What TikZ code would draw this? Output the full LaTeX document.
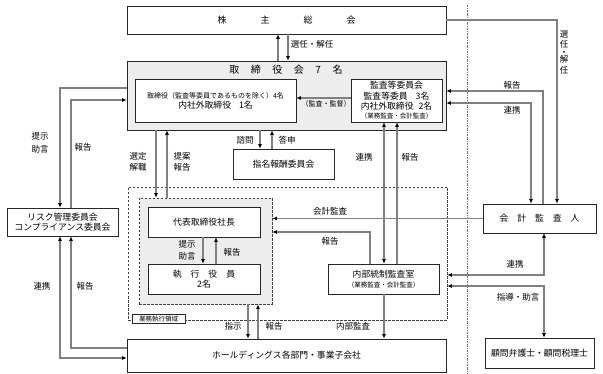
\documentclass[tikz,border=0pt]{standalone}
\usepackage{fontspec}
\setmainfont{Noto Sans CJK JP}
\usetikzlibrary{arrows.meta,calc}
\begin{document}
\begin{tikzpicture}[x=1pt,y=-1pt,
  box/.style={draw=black!85, line width=0.7pt, fill=white, inner sep=0pt, align=center, font=\fontsize{8.8}{10.5}\selectfont},
  conn/.style={draw=black!50, line width=1.1pt},
  arr/.style={conn, -{Latex[length=4.5pt,width=4pt,color=black]}},
  barr/.style={conn, {Latex[length=4.5pt,width=4pt,color=black]}-{Latex[length=4.5pt,width=4pt,color=black]}},
  lbl/.style={font=\fontsize{8.5}{10.5}\selectfont, inner sep=0pt, align=center},
  dashbox/.style={draw=black!75, line width=0.6pt, dash pattern=on 2.5pt off 1.5pt, inner sep=0pt},
]
\useasboundingbox (0,0) rectangle (603,374);

% coordinates for x and y positions
\foreach \v in {60,71,156,167,203,216,248,258,260,272,278,288,370,384,397,531,543,544,557}{\coordinate (c\v) at (\v,0);}
\foreach \v in {88,91,98,100,103,232,275,286,348,358}{\coordinate (r\v) at (0,\v);}

% dotted separator
\coordinate (sepTop) at (467,5);
\coordinate (sepBot) at (467,374);
\draw[black!55, line width=0.8pt, dash pattern=on 2pt off 1pt on 0.6pt off 1pt] (sepTop) -- (sepBot);

% boxes
\node[box, minimum width=319pt, minimum height=28pt] (kab) at (286.5,20) {};
\node[font=\fontsize{9}{10}\selectfont, inner sep=0pt] (kabt) at (286.5,20) {株\hspace{34pt}主\hspace{34pt}総\hspace{34pt}会};

\node[box, fill=black!7, minimum width=319pt, minimum height=69pt] (tb) at (286.5,95.5) {};
\node[font=\fontsize{10}{12}\selectfont, inner sep=0pt] (tbt) at (286,70) {取\hspace{11.5pt}締\hspace{11.5pt}役\hspace{11.5pt}会\hspace{11.5pt}7\hspace{11.5pt}名};
\node[box, minimum width=161pt, minimum height=43pt] (dir) at (215.5,100.5)
  {{\fontsize{7}{9}\selectfont 取締役（監査等委員であるものを除く）4名}\\[-0.5pt]内社外取締役\hspace{8pt}1名};
\node[box, minimum width=91pt, minimum height=43pt] (kansa) at (396.5,100.5)
  {監査等委員会\\監査等委員\hspace{8pt}3名\\内社外取締役\hspace{5pt}2名\\[-1.5pt]{\fontsize{6.5}{8}\selectfont （業務監査・会計監査）}};

\node[box, minimum width=111pt, minimum height=28pt] (risk) at (62.5,222)
  {リスク管理委員会\\コンプライアンス委員会};
\node[box, minimum width=101pt, minimum height=30pt] (nom) at (283.5,164) {指名報酬委員会};

\node[dashbox, minimum width=319pt, minimum height=133pt] (region) at (287.5,253.5) {};
\node[dashbox, fill=black!7, minimum width=133pt, minimum height=106pt] (gray) at (205.5,251) {};
\node[draw=black!85, line width=0.6pt, fill=white, inner sep=0pt, minimum width=53pt, minimum height=9pt, font=\fontsize{6.5}{7}\selectfont] (rlab) at (158.5,319) {業務執行領域};

\node[box, minimum width=112pt, minimum height=30pt] (ceo) at (204,222) {代表取締役社長};
\node[box, minimum width=112pt, minimum height=30pt] (exec) at (204,279) {執\hspace{9pt}行\hspace{9pt}役\hspace{9pt}員\\2名};
\node[box, minimum width=111pt, minimum height=30pt] (audit) at (383.5,279)
  {内部統制監査室\\[-1pt]{\fontsize{6.5}{8}\selectfont （業務監査・会計監査）}};

\node[box, minimum width=319pt, minimum height=33pt] (hd) at (286.5,355.5) {ホールディングス各部門・事業子会社};
\node[box, minimum width=113pt, minimum height=29pt] (acct) at (539.5,218.5) {会\hspace{9pt}計\hspace{9pt}監\hspace{9pt}査\hspace{9pt}人};
\node[box, minimum width=109pt, minimum height=30pt] (adv) at (539.5,353) {顧問弁護士・顧問税理士};

% connectors
\draw[arr] (tb.north -| c278) -- (kab.south -| c278);
\draw[arr] (kab.south -| c288) -- (tb.north -| c288);
\draw[arr] (kab.east) -| (acct.north -| c557);
\draw[arr] (acct.north -| c543) |- (tb.east |- r91);
\draw[barr] (tb.east |- r103) -| (acct.north -| c531);
\draw[arr] (kansa.west |- r98) -- (dir.east |- r98);
\draw[arr] (tb.west |- r88) -| (risk.north -| c60);
\draw[arr] (risk.north -| c71) |- (tb.west |- r100);
\draw[barr] (risk.south -| c60) |- (hd.west |- r358);
\draw[arr] (hd.west |- r348) -| (risk.south -| c71);
\draw[arr] (tb.south -| c156) -- (gray.north -| c156);
\draw[arr] (gray.north -| c167) -- (tb.south -| c167);
\draw[arr] (tb.south -| c260) -- (nom.north -| c260);
\draw[arr] (nom.north -| c272) -- (tb.south -| c272);
\draw[barr] (kansa.south -| c384) -- (audit.north -| c384);
\draw[arr] (audit.north -| c397) -- (kansa.south -| c397);
\draw[arr] (acct.west) -- (gray.east |- acct.west);
\draw[arr] (audit.north -| c370) |- (gray.east |- r232);
\draw[barr] (acct.south -| c544) |- (region.east |- r275);
\draw[barr] (region.east |- r286) -| (adv.north -| c544);
\draw[arr] (ceo.south -| c203) -- (exec.north -| c203);
\draw[arr] (exec.north -| c216) -- (ceo.south -| c216);
\draw[arr] (gray.south -| c248) -- (hd.north -| c248);
\draw[arr] (hd.north -| c258) -- (gray.south -| c258);
\draw[arr] (audit.south -| c384) -- (hd.north -| c384);

% labels
\node[lbl] (l1) at (312,44) {選任・解任};
\node[lbl, font=\fontsize{8.5}{10.5}\selectfont] (l2) at (564,52) {選\\任\\[-3pt]・\\[-3pt]解\\任};
\node[lbl] (l3) at (512,85) {報告};
\node[lbl] (l4) at (512,110) {連携};
\node[lbl, font=\fontsize{8.5}{12.5}\selectfont] (l5) at (40,143) {提示\\助言};
\node[lbl] (l6) at (83,147) {報告};
\node[lbl] (l7) at (42,286) {連携};
\node[lbl] (l8) at (85,286) {報告};
\node[lbl] (l9) at (138,162) {選定\\解職};
\node[lbl] (l10) at (182,162) {提案\\報告};
\node[lbl] (l11) at (245,140) {諮問};
\node[lbl] (l12) at (287,140) {答申};
\node[lbl, font=\fontsize{7}{9}\selectfont] (l13) at (326,104) {（監査・監督）};
\node[lbl] (l14) at (364,157) {連携};
\node[lbl] (l15) at (410,157) {報告};
\node[lbl] (l16) at (330,211) {会計監査};
\node[lbl] (l17) at (330,241) {報告};
\node[lbl] (l18) at (515,264) {連携};
\node[lbl] (l19) at (518,297) {指導・助言};
\node[lbl, font=\fontsize{8.5}{12}\selectfont] (l20) at (187,250) {提示\\助言};
\node[lbl] (l21) at (232,252) {報告};
\node[lbl] (l22) at (233,326) {指示};
\node[lbl] (l23) at (274,326) {報告};
\node[lbl] (l24) at (353,326) {内部監査};
\end{tikzpicture}
\end{document}
